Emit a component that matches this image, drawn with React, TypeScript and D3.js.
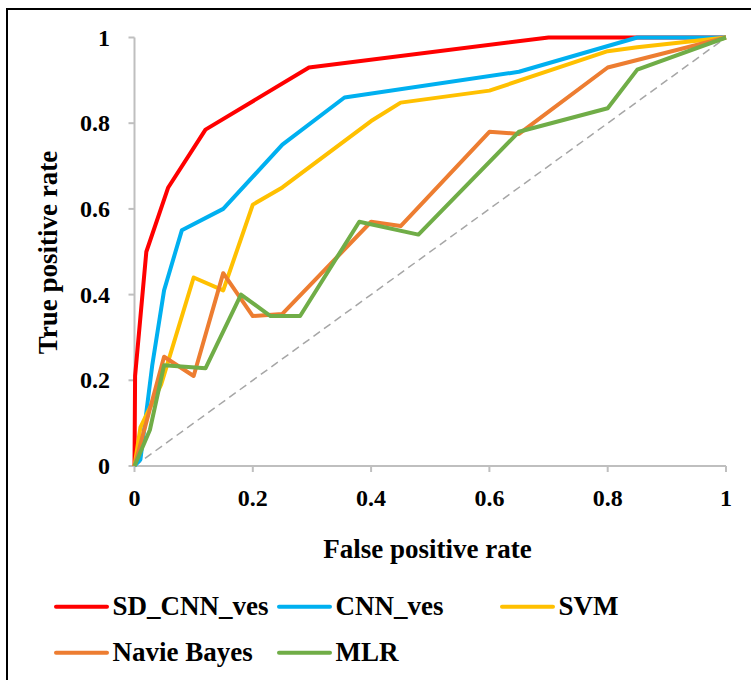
import React from "react";
import * as d3 from "d3";

// ROC points, [false positive rate, true positive rate]
const sdCnnVes = [
  [0, 0], [0.001, 0.21], [0.02, 0.5], [0.057, 0.65], [0.12, 0.785],
  [0.295, 0.93], [0.7, 1], [1, 1],
];
const cnnVes = [
  [0, 0], [0.01, 0.015], [0.03, 0.235], [0.05, 0.41], [0.08, 0.55],
  [0.15, 0.6], [0.25, 0.75], [0.355, 0.86], [0.65, 0.92], [0.85, 1], [1, 1],
];
const svm = [
  [0, 0], [0.01, 0.09], [0.045, 0.19], [0.1, 0.44], [0.15, 0.41],
  [0.2, 0.61], [0.25, 0.65], [0.4, 0.805], [0.45, 0.848], [0.6, 0.876],
  [0.8, 0.968], [0.85, 0.977], [1, 1],
];
const navieBayes = [
  [0, 0], [0.05, 0.255], [0.1, 0.21], [0.15, 0.45], [0.2, 0.35],
  [0.25, 0.355], [0.4, 0.57], [0.45, 0.56], [0.6, 0.78], [0.65, 0.775],
  [0.8, 0.93], [1, 1],
];
const mlr = [
  [0, 0], [0.026, 0.084], [0.05, 0.235], [0.12, 0.228], [0.18, 0.4],
  [0.23, 0.35], [0.28, 0.35], [0.38, 0.57], [0.48, 0.54], [0.65, 0.78],
  [0.8, 0.835], [0.85, 0.925], [1, 1],
];
const chance = [[0, 0], [1, 1]];

const seriesNames = ["SD_CNN_ves", "CNN_ves", "SVM", "Navie Bayes", "MLR"];
const seriesData = [sdCnnVes, cnnVes, svm, navieBayes, mlr];
const seriesColors = ["#FF0000", "#00B0F0", "#FFC000", "#ED7D31", "#70AD47"];

const xTicks = [0, 0.2, 0.4, 0.6, 0.8, 1];
const yTicks = [0, 0.2, 0.4, 0.6, 0.8, 1];

const FONT = "Liberation Serif";
const AXIS = "#BFBFBF";

export default function App() {
  const x = d3.scaleLinear().domain([0, 1]).range([134.5, 726]);
  const y = d3.scaleLinear().domain([0, 1]).range([466, 37.5]);
  const line = d3
    .line<number[]>()
    .x((d) => x(d[0]))
    .y((d) => y(d[1]));
  const fmt = d3.format("");

  // legend slots: two rows, three columns
  const legendPos = [
    [56, 606.7],
    [279, 606.7],
    [502, 606.7],
    [56, 652.7],
    [279, 652.7],
  ];

  return (
    <svg
      width={751}
      height={680}
      style={{ position: "absolute", left: 0, top: 0, background: "white" }}
    >
      {/* outer frame */}
      <rect x={7} y={9} width={800} height={720} fill="white" stroke="black" strokeWidth={2} />

      {/* axes */}
      <g stroke={AXIS} strokeWidth={2}>
        <line x1={x(0)} x2={x(1)} y1={y(0)} y2={y(0)} />
        <line x1={x(0)} x2={x(0)} y1={y(0)} y2={y(1)} />
        {xTicks.map((t) => (
          <line key={"xt" + t} x1={x(t)} x2={x(t)} y1={y(0)} y2={y(0) + 6} />
        ))}
        {yTicks.map((t) => (
          <line key={"yt" + t} x1={x(0) - 6} x2={x(0)} y1={y(t)} y2={y(t)} />
        ))}
      </g>

      {/* tick labels */}
      <g fontFamily={FONT} fontWeight="bold" fontSize={24} fill="black">
        {xTicks.map((t) => (
          <text key={"xl" + t} x={x(t)} y={506} textAnchor="middle">
            {fmt(t)}
          </text>
        ))}
        {yTicks.map((t) => (
          <text key={"yl" + t} x={110} y={y(t) + 8} textAnchor="end">
            {fmt(t)}
          </text>
        ))}
      </g>

      {/* axis titles */}
      <g fontFamily={FONT} fontWeight="bold" fontSize={27} fill="black">
        <text x={427.5} y={558} textAnchor="middle">
          False positive rate
        </text>
        <text transform="translate(57,252.5) rotate(-90)" textAnchor="middle">
          True positive rate
        </text>
      </g>

      {/* chance diagonal */}
      <path
        d={line(chance) || ""}
        fill="none"
        stroke="#A6A6A6"
        strokeWidth={1.5}
        strokeDasharray="8,5"
      />

      {/* ROC curves */}
      {seriesData.map((d, i) => (
        <path
          key={seriesNames[i]}
          d={line(d) || ""}
          fill="none"
          stroke={seriesColors[i]}
          strokeWidth={4}
          strokeLinejoin="round"
        />
      ))}

      {/* legend */}
      {seriesNames.map((name, i) => (
        <g key={"lg" + name} transform={`translate(${legendPos[i][0]},${legendPos[i][1]})`}>
          <line x1={0} x2={51} stroke={seriesColors[i]} strokeWidth={4} strokeLinecap="round" />
          <text x={56.5} y={8.5} fontFamily={FONT} fontWeight="bold" fontSize={27} fill="black">
            {name}
          </text>
        </g>
      ))}
    </svg>
  );
}
